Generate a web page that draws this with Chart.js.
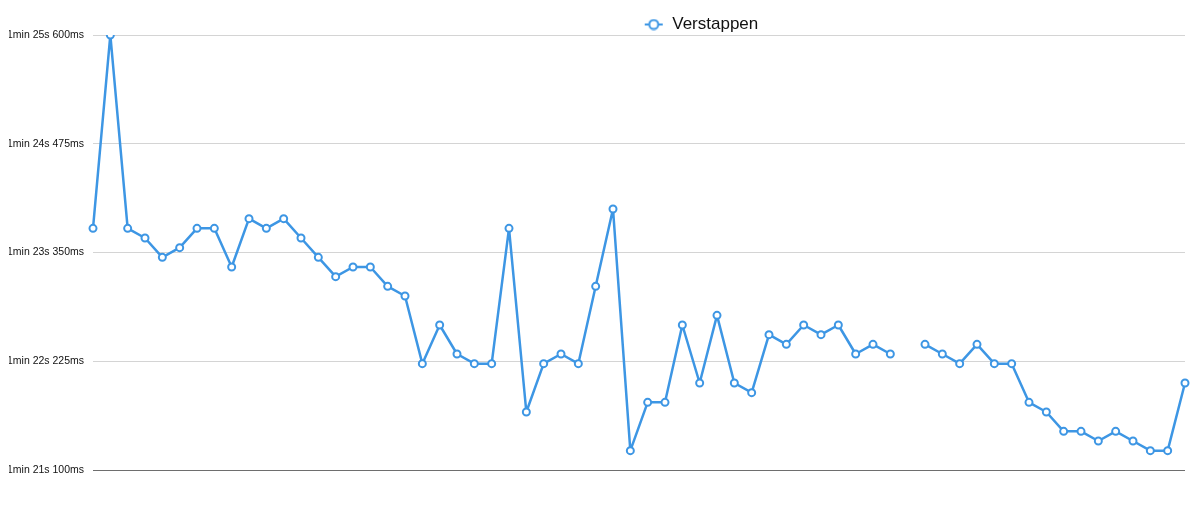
<!DOCTYPE html>
<html lang="en">
<head>
    <meta charset="UTF-8">
    <script src="https://cdn.jsdelivr.net/npm/chart.js"></script>
    <title>Verstappen lap times</title>
    <style>
        html, body { margin: 0; padding: 0; background: #fff; }
        #wrap { width: 1200px; height: 509px; }
    </style>
</head>
<body>
<div id="wrap"><canvas id="lapChart"></canvas></div>
<script>
    // lap numbers (x axis has no visible labels)
    const laps = Array.from({length: 64}, (_, i) => i + 1);

    // lap times in milliseconds, null = no time recorded
    const verstappen = [
        83600, 85600, 83600, 83500, 83300, 83400, 83600, 83600, 83200, 83700,
        83600, 83700, 83500, 83300, 83100, 83200, 83200, 83000, 82900, 82200,
        82600, 82300, 82200, 82200, 83600, 81700, 82200, 82300, 82200, 83000,
        83800, 81300, 81800, 81800, 82600, 82000, 82700, 82000, 81900, 82500,
        82400, 82600, 82500, 82600, 82300, 82400, 82300, null, 82400, 82300,
        82200, 82400, 82200, 82200, 81800, 81700, 81500, 81500, 81400, 81500,
        81400, 81300, 81300, 82000
    ];

    const yMin = 81100;
    const yMax = 85600;
    const yStep = 1125;

    const blue = '#3d96e4';

    function formatMs(ms) {
        const min = Math.floor(ms / 60000);
        const sec = Math.floor((ms % 60000) / 1000);
        const rest = Math.round(ms % 1000);
        return min + 'min ' + sec + 's ' + rest + 'ms';
    }

    // little line+circle symbol for the legend
    function legendIcon() {
        const c = document.createElement('canvas');
        c.width = 20; c.height = 12;
        const g = c.getContext('2d');
        g.strokeStyle = blue;
        g.lineWidth = 2;
        g.beginPath(); g.moveTo(1, 6); g.lineTo(19, 6); g.stroke();
        g.beginPath(); g.arc(10, 6, 4.5, 0, Math.PI * 2);
        g.fillStyle = '#fff'; g.fill(); g.stroke();
        return c;
    }

    // shrink the legend box a bit and push it right like the original
    const legendTweak = {
        id: 'legendTweak',
        beforeInit(chart) {
            const fit = chart.legend.fit;
            chart.legend.fit = function () {
                fit.bind(chart.legend)();
                this.height -= 8;
            };
        },
        afterLayout(chart) {
            chart.legend.left += 104;
            chart.legend.right += 104;
        }
    };

    const ctx = document.getElementById('lapChart').getContext('2d');

    new Chart(ctx, {
        type: 'line',
        data: {
            labels: laps,
            datasets: [{
                label: 'Verstappen',
                data: verstappen,
                borderColor: blue,
                backgroundColor: '#fff',
                borderWidth: 2.5,
                borderJoinStyle: 'round',
                pointRadius: 3.5,
                pointBorderWidth: 2,
                pointBackgroundColor: '#fff',
                pointBorderColor: blue,
                tension: 0,
                spanGaps: false
            }]
        },
        options: {
            responsive: true,
            maintainAspectRatio: false,
            animation: false,
            layout: {
                padding: { top: 6, left: 9, right: 15, bottom: 39 }
            },
            plugins: {
                legend: {
                    position: 'top',
                    labels: {
                        usePointStyle: true,
                        pointStyle: legendIcon(),
                        pointStyleWidth: 20,
                        color: '#111',
                        font: { family: 'Liberation Sans, Arial, sans-serif', size: 17 }
                    }
                },
                tooltip: { enabled: false }
            },
            scales: {
                x: {
                    display: false,
                    offset: false
                },
                y: {
                    min: yMin,
                    max: yMax,
                    afterFit(scale) { scale.width = 84; },
                    afterBuildTicks(scale) {
                        const t = [];
                        for (let v = yMin; v <= yMax; v += yStep) t.push({ value: v });
                        scale.ticks = t;
                    },
                    border: { display: false },
                    grid: {
                        drawTicks: false,
                        lineWidth: 1,
                        color: (c) => (c.tick && c.tick.value === yMin) ? '#6e6e6e' : '#d4d4d4'
                    },
                    ticks: {
                        padding: 9,
                        color: '#111',
                        font: { family: 'Liberation Sans, Arial, sans-serif', size: 10.5 },
                        callback: (v) => formatMs(v)
                    }
                }
            }
        },
        plugins: [legendTweak]
    });
</script>
</body>
</html>
